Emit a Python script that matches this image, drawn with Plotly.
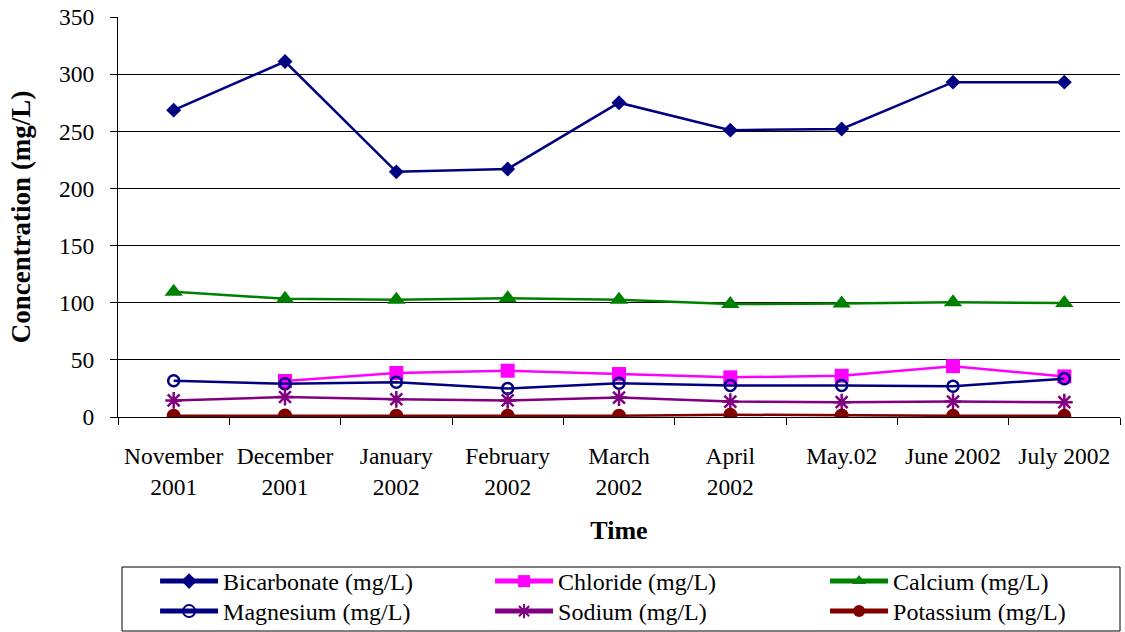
import plotly.graph_objects as go

months = ["November<br>2001", "December<br>2001", "January<br>2002", "February<br>2002",
          "March<br>2002", "April<br>2002", "May.02", "June 2002", "July 2002"]

bicarbonate = [268.5, 311, 214.5, 217, 275, 251, 252, 293, 293]
chloride = [None, 31.5, 38.5, 40.5, 37.6, 34.7, 36.1, 44.5, 35.5]
calcium = [109.5, 103.5, 102.5, 104, 102.5, 98.8, 99.3, 100.5, 99.7]
magnesium = [31.8, 29, 30.5, 25, 29.5, 27.5, 27.5, 27, 33.5]
sodium = [14.5, 17.5, 15.5, 14.5, 17, 13.5, 13, 13.5, 13]
potassium = [1.2, 1.3, 1.2, 1.2, 1.2, 2.0, 1.3, 1.0, 1.0]

series = [
    ("Bicarbonate (mg/L)", bicarbonate, "#000080", "diamond", 11.5, "legend"),
    ("Chloride (mg/L)", chloride, "#FF00FF", "square", 14, "legend"),
    ("Calcium (mg/L)", calcium, "#008000", "triangle-up", 16, "legend"),
    ("Magnesium (mg/L)", magnesium, "#000080", "circle-open", 11, "legend2"),
    ("Sodium (mg/L)", sodium, "#800080", "asterisk-open", 14, "legend2"),
    ("Potassium (mg/L)", potassium, "#800000", "circle", 14, "legend2"),
]

fig = go.Figure()
for name, vals, color, sym, size, leg in series:
    fig.add_trace(go.Scatter(
        x=months, y=vals, name=name, mode="lines+markers",
        line=dict(color=color, width=2.5),
        marker=dict(symbol=sym, size=size, color=color,
                    line=dict(color=color, width=2.5 if "open" in sym else 0)),
        connectgaps=False, legend=leg,
    ))

font_family = "Liberation Serif"

# legend frame
fig.add_shape(type="rect", xref="paper", yref="paper",
              x0=0.004, x1=1.0, y0=-0.535, y1=-0.375,
              line=dict(color="black", width=1), fillcolor="rgba(0,0,0,0)")

legend_common = dict(
    orientation="h",
    x=0.037, xanchor="left",
    yanchor="top",
    entrywidth=262, entrywidthmode="pixels",
    itemwidth=58,
    borderwidth=0,
    bgcolor="rgba(0,0,0,0)",
    font=dict(family=font_family, size=24, color="black"),
    itemsizing="constant",
)

fig.update_layout(
    width=1125, height=632,
    paper_bgcolor="white", plot_bgcolor="white",
    margin=dict(l=118, r=5, t=17, b=215, autoexpand=False),
    font=dict(family=font_family, size=20, color="black"),
    showlegend=True,
    legend=dict(legend_common, y=-0.355),
    legend2=dict(legend_common, y=-0.43),
    xaxis=dict(
        type="category",
        range=[-0.5, 8.5],
        tickson="boundaries",
        ticks="outside", ticklen=7, tickcolor="black",
        ticklabelstandoff=18,
        showline=True, linecolor="black", linewidth=1,
        showgrid=False,
        tickfont=dict(family=font_family, size=23.5),
        title=dict(text="<b>Time</b>", font=dict(family=font_family, size=26), standoff=22),
    ),
    yaxis=dict(
        range=[0, 350],
        tickvals=[0, 50, 100, 150, 200, 250, 300, 350],
        ticks="outside", ticklen=7, tickcolor="black",
        ticklabelstandoff=11,
        showline=True, linecolor="black", linewidth=1,
        showgrid=True, gridcolor="black", gridwidth=1,
        zeroline=False,
        tickfont=dict(family=font_family, size=23.5),
        title=dict(text="<b>Concentration (mg/L)</b>", font=dict(family=font_family, size=27), standoff=20),
    ),
)

fig.write_html("out.html")
